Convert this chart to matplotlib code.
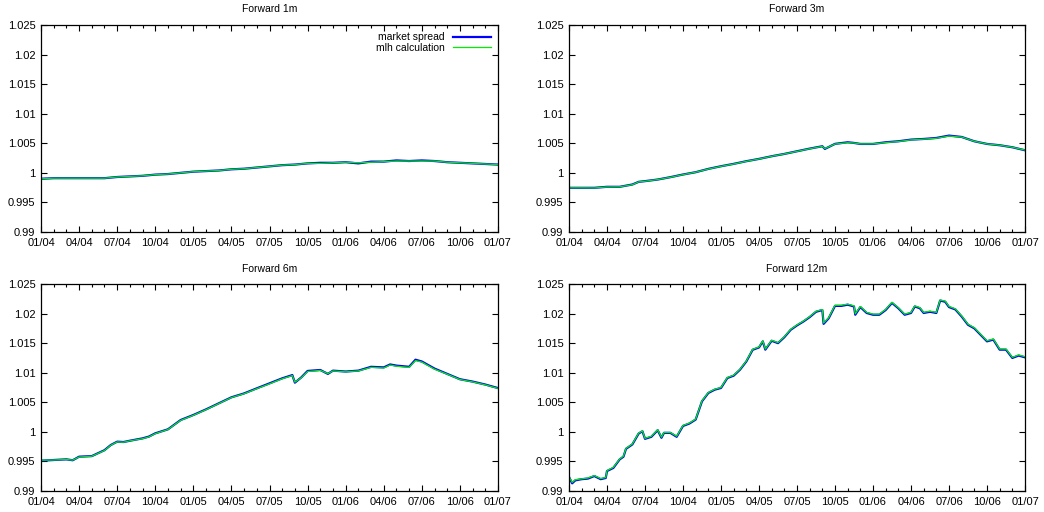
import matplotlib
matplotlib.use("Agg")
import matplotlib.pyplot as plt
from matplotlib.ticker import MultipleLocator, FixedLocator

plt.rcParams['font.family'] = ['Liberation Sans', 'DejaVu Sans']

# x tick labels (month offsets from 01/04, every 3 months)
tick_months = [0, 3, 6, 9, 12, 15, 18, 21, 24, 27, 30, 33, 36]
tick_labels = ["01/04", "04/04", "07/04", "10/04", "01/05", "04/05", "07/05",
               "10/05", "01/06", "04/06", "07/06", "10/06", "01/07"]
y_ticks = [0.99, 0.995, 1.0, 1.005, 1.01, 1.015, 1.02, 1.025]
y_labels = ["0.99", "0.995", "1", "1.005", "1.01", "1.015", "1.02", "1.025"]

# ---- Forward 1m ----
months_1m = list(range(37))
market_1m = [0.9990, 0.9991, 0.9991, 0.9991, 0.9991, 0.9991, 0.9993, 0.9994, 0.9995,
             0.9997, 0.9998, 1.0000, 1.0002, 1.0003, 1.0004, 1.0006, 1.0007, 1.0009,
             1.0011, 1.0013, 1.0014, 1.0016, 1.0017, 1.0017, 1.0018, 1.0016, 1.0019,
             1.0019, 1.0021, 1.0020, 1.0021, 1.0020, 1.0018, 1.0017, 1.0016, 1.0015,
             1.0014]
mlh_1m = [0.9990, 0.9991, 0.9991, 0.9991, 0.9991, 0.9991, 0.9993, 0.9994, 0.9995,
          0.9997, 0.9998, 1.0000, 1.0002, 1.0003, 1.0004, 1.0006, 1.0007, 1.0009,
          1.0011, 1.0013, 1.0014, 1.0016, 1.0016, 1.0017, 1.0018, 1.0017, 1.0018,
          1.0019, 1.0020, 1.0020, 1.0020, 1.0020, 1.0018, 1.0017, 1.0016, 1.0015,
          1.0014]

# ---- Forward 3m ----
months_3m = [0, 1, 2, 3, 4, 5, 5.5, 6, 7, 8, 9, 10, 11, 12, 13, 14, 15, 16, 17, 18,
             19, 20, 20.2, 21, 22, 22.5, 23, 24, 25, 26, 27, 28, 29, 30, 31, 32, 33,
             34, 35, 36]
market_3m = [0.99747, 0.99747, 0.99747, 0.99764, 0.99764, 0.99803, 0.99848, 0.99860,
             0.99887, 0.99927, 0.99972, 1.00011, 1.00067, 1.00112, 1.00152, 1.00197,
             1.00236, 1.00281, 1.00320, 1.00365, 1.00410, 1.00450, 1.00405, 1.00490,
             1.00517, 1.00506, 1.00489, 1.00489, 1.00517, 1.00534, 1.00562, 1.00573,
             1.00590, 1.00630, 1.00607, 1.00534, 1.00489, 1.00467, 1.00433, 1.00382]
mlh_3m = [0.99747, 0.99747, 0.99745, 0.99762, 0.99764, 0.99800, 0.99848, 0.99858,
          0.99887, 0.99925, 0.99970, 1.00011, 1.00065, 1.00110, 1.00150, 1.00195,
          1.00235, 1.00280, 1.00320, 1.00363, 1.00408, 1.00448, 1.00410, 1.00488,
          1.00510, 1.00505, 1.00490, 1.00490, 1.00512, 1.00530, 1.00558, 1.00570,
          1.00585, 1.00622, 1.00605, 1.00534, 1.00489, 1.00467, 1.00433, 1.00385]

# ---- Forward 6m ----
months_6m = [0, 1, 2, 2.5, 3, 4, 5, 5.5, 6, 6.5, 7, 8, 8.5, 9, 10, 11, 12, 13, 14,
             15, 16, 17, 18, 19, 19.8, 20.0, 20.5, 21, 22, 22.6, 23, 24, 25, 26, 27,
             27.5, 28, 29, 29.5, 30, 31, 32, 33, 34, 35, 36]
market_6m = [0.99513, 0.99524, 0.99535, 0.99520, 0.99580, 0.99590, 0.99690, 0.99778,
             0.99834, 0.99828, 0.99850, 0.99890, 0.99920, 0.99975, 1.00043, 1.00200,
             1.00285, 1.00380, 1.00482, 1.00584, 1.00650, 1.00736, 1.00820, 1.00905,
             1.00960, 1.00832, 1.00920, 1.01030, 1.01046, 1.00980, 1.01035, 1.01020,
             1.01035, 1.01100, 1.01090, 1.01140, 1.01120, 1.01100, 1.01220, 1.01190,
             1.01070, 1.00980, 1.00890, 1.00850, 1.00800, 1.00740]
mlh_6m = [0.99520, 0.99524, 0.99533, 0.99522, 0.99575, 0.99588, 0.99685, 0.99775,
          0.99830, 0.99825, 0.99848, 0.99885, 0.99915, 0.99970, 1.00040, 1.00195,
          1.00280, 1.00375, 1.00478, 1.00580, 1.00645, 1.00730, 1.00812, 1.00898,
          1.00952, 1.00840, 1.00915, 1.01020, 1.01040, 1.00985, 1.01030, 1.01015,
          1.01030, 1.01090, 1.01080, 1.01130, 1.01110, 1.01090, 1.01205, 1.01180,
          1.01060, 1.00975, 1.00885, 1.00845, 1.00795, 1.00735]

# ---- Forward 12m ----
months_12m = [0, 0.25, 0.5, 1, 1.5, 2, 2.5, 2.9, 3.0, 3.5, 4, 4.3, 4.5, 5, 5.5, 5.8,
              6, 6.5, 7, 7.3, 7.5, 8, 8.5, 9, 9.5, 10, 10.5, 11, 11.5, 12, 12.5, 13,
              13.5, 14, 14.5, 15, 15.3, 15.5, 16, 16.5, 17, 17.5, 18, 18.5, 19, 19.5,
              20, 20.1, 20.5, 21, 21.5, 22, 22.5, 22.6, 23, 23.5, 24, 24.5, 25, 25.5,
              26, 26.5, 27, 27.3, 27.7, 28, 28.5, 29, 29.3, 29.7, 30, 30.5, 31, 31.5,
              32, 32.5, 33, 33.5, 34, 34.5, 35, 35.5, 36]
market_12m = [0.99236, 0.99130, 0.99180, 0.99200, 0.99210, 0.99253, 0.99200, 0.99220,
              0.99337, 0.99390, 0.99534, 0.99580, 0.99713, 0.99787, 0.99972, 1.00010,
              0.99882, 0.99916, 1.00028, 0.99900, 0.99983, 0.99983, 0.99916, 1.00100,
              1.00140, 1.00208, 1.00517, 1.00657, 1.00713, 1.00742, 1.00910, 1.00950,
              1.01051, 1.01190, 1.01388, 1.01427, 1.01530, 1.01390, 1.01540, 1.01500,
              1.01600, 1.01725, 1.01800, 1.01865, 1.01940, 1.02030, 1.02060, 1.01826,
              1.01920, 1.02130, 1.02130, 1.02150, 1.02120, 1.01980, 1.02110, 1.02010,
              1.01980, 1.01980, 1.02060, 1.02180, 1.02090, 1.01980, 1.02010, 1.02120,
              1.02090, 1.02010, 1.02030, 1.02010, 1.02220, 1.02200, 1.02110, 1.02070,
              1.01950, 1.01810, 1.01750, 1.01640, 1.01530, 1.01560, 1.01390, 1.01390,
              1.01250, 1.01290, 1.01260]
mlh_12m = [0.99240, 0.99145, 0.99190, 0.99205, 0.99220, 0.99260, 0.99210, 0.99228,
           0.99345, 0.99400, 0.99540, 0.99590, 0.99720, 0.99795, 0.99980, 1.00015,
           0.99890, 0.99925, 1.00035, 0.99910, 0.99990, 0.99990, 0.99925, 1.00108,
           1.00148, 1.00215, 1.00525, 1.00665, 1.00720, 1.00750, 1.00918, 1.00958,
           1.01058, 1.01198, 1.01395, 1.01435, 1.01538, 1.01400, 1.01548, 1.01508,
           1.01608, 1.01732, 1.01808, 1.01872, 1.01948, 1.02038, 1.02068, 1.01840,
           1.01930, 1.02140, 1.02140, 1.02160, 1.02130, 1.01995, 1.02120, 1.02020,
           1.01990, 1.01990, 1.02070, 1.02190, 1.02100, 1.01990, 1.02020, 1.02130,
           1.02100, 1.02020, 1.02040, 1.02020, 1.02230, 1.02210, 1.02120, 1.02080,
           1.01960, 1.01820, 1.01760, 1.01650, 1.01540, 1.01570, 1.01400, 1.01400,
           1.01260, 1.01300, 1.01270]

panels = [
    ("Forward 1m", months_1m, market_1m, mlh_1m),
    ("Forward 3m", months_3m, market_3m, mlh_3m),
    ("Forward 6m", months_6m, market_6m, mlh_6m),
    ("Forward 12m", months_12m, market_12m, mlh_12m),
]

W, H = 1044, 512
fig = plt.figure(figsize=(W / 100, H / 100), dpi=100)
boxes = [(41, 25, 498, 232), (569, 25, 1025, 232),
         (41, 284, 498, 491), (569, 284, 1025, 491)]

for i, ((title, xs, mk, ml), (x0, y0, x1, y1)) in enumerate(zip(panels, boxes)):
    ax = fig.add_axes([x0 / W, 1 - y1 / H, (x1 - x0) / W, (y1 - y0) / H])
    ax.plot(xs, mk, color="#0000ff", lw=1.6, label="market spread")
    ax.plot(xs, ml, color="#00ee00", lw=0.9, label="mlh calculation")
    ax.set_xlim(0, 36)
    ax.set_ylim(0.99, 1.025)
    ax.xaxis.set_major_locator(FixedLocator(tick_months))
    ax.set_xticklabels(tick_labels)
    ax.xaxis.set_minor_locator(MultipleLocator(1))
    ax.set_yticks(y_ticks)
    ax.set_yticklabels(y_labels)
    ax.tick_params(which="both", direction="in", top=True, right=True,
                   labelsize=8, colors="black", pad=4)
    ax.tick_params(which="major", length=4, width=0.8)
    ax.tick_params(which="minor", length=2, width=0.8)
    for s in ax.spines.values():
        s.set_linewidth(0.9)
    ax.set_title(title, fontsize=7.5, pad=9)
    if i == 0:
        ax.legend(loc="upper right", frameon=False, markerfirst=False, fontsize=7.5,
                  handlelength=3.6, labelspacing=0.05, borderaxespad=0.3,
                  handletextpad=0.8)

fig.savefig("out.png", dpi=100)
